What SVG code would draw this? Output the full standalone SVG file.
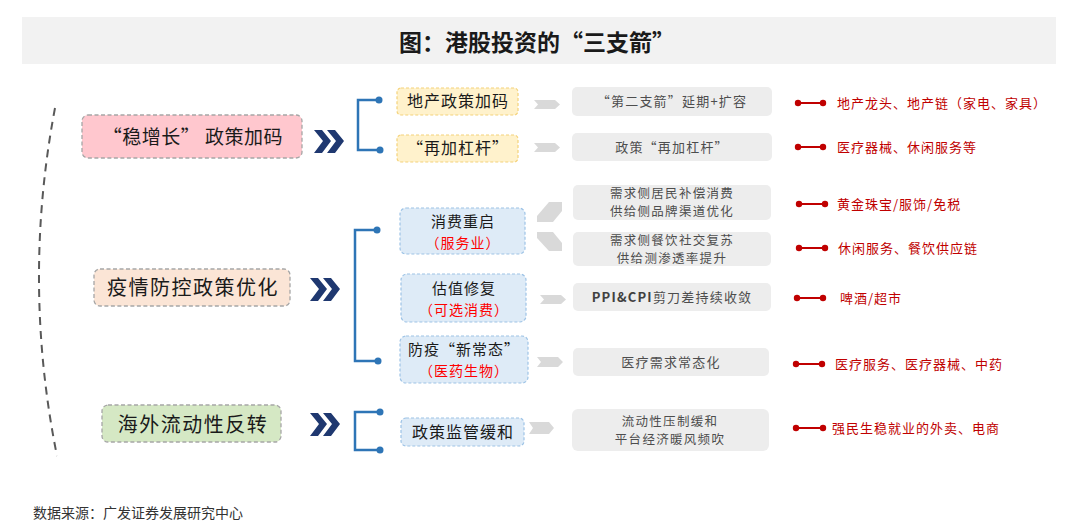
<svg xmlns="http://www.w3.org/2000/svg" width="1080" height="531" viewBox="0 0 1080 531">
<defs>
<style>
text{font-family:"Noto Sans CJK SC","Liberation Sans",sans-serif;}
.title{font-size:23px;font-weight:bold;fill:#1a1a1a;text-anchor:middle;}
.lnode{stroke:#a6a6a6;stroke-width:1.3;stroke-dasharray:4 2.5;}
.ltxt{font-size:20px;fill:#1a1a1a;text-anchor:middle;letter-spacing:1.5px;}
.ynode{fill:#fff2cc;stroke:#f4d27a;stroke-width:1.2;stroke-dasharray:3 2;}
.bnode{fill:#deebf7;stroke:#9dc3e6;stroke-width:1.2;stroke-dasharray:3 2;}
.mtxt{font-size:16px;fill:#1a1a1a;text-anchor:middle;letter-spacing:1px;}
.btxt{font-size:15px;fill:#1a1a1a;text-anchor:middle;letter-spacing:1px;}
.rtxt2{font-size:14px;fill:#ff0000;text-anchor:middle;letter-spacing:1px;}
.gbox{fill:#ededed;}
.gtxt{font-size:13px;fill:#4d4d4d;text-anchor:middle;letter-spacing:1.2px;}
.gtxt2{font-size:12.5px;fill:#4d4d4d;text-anchor:middle;letter-spacing:1.3px;}
.garrow{fill:#d9d9d9;}
.chev{fill:#1f3870;}
.brk{fill:none;stroke:#2e75b6;stroke-width:2.5;}
.bdot{fill:#2e75b6;}
.rline{stroke:#c00000;stroke-width:2;}
.rdot{fill:#c00000;}
.redtxt{font-size:13px;fill:#c00000;letter-spacing:1px;}
</style>
</defs>
<rect width="1080" height="531" fill="#ffffff"/>
<g id="title">
<rect x="22" y="17" width="1034" height="47" fill="#f2f2f2"/>
<text class="title" x="537" y="51">图：港股投资的“三支箭”</text>
</g>
<path d="M55,108 Q22,282 57,456" fill="none" stroke="#595959" stroke-width="2" stroke-dasharray="8 6"/>

<g id="node-wzz">
<rect class="lnode" x="82" y="115" width="220" height="43" rx="6" fill="#ffc7ce"/>
<text class="ltxt" x="193" y="144" style="font-size:19px;letter-spacing:0.5px">“稳增长” 政策加码</text>
</g>
<g id="node-yq">
<rect class="lnode" x="94" y="269" width="196" height="37" rx="6" fill="#fbe5d6"/>
<text class="ltxt" x="193" y="295">疫情防控政策优化</text>
</g>
<g id="node-hw">
<rect class="lnode" x="102" y="405" width="179" height="37" rx="6" fill="#d5e8c4"/>
<text class="ltxt" x="193" y="432">海外流动性反转</text>
</g>

<g id="connectors">
<g class="chev">
<polygon points="314,130 322,130 331,141 322,153 314,153 323,141"/>
<polygon points="327,130 335,130 344,141 335,153 327,153 336,141"/>
<polygon points="310,278 318,278 327,289 318,301 310,301 319,289"/>
<polygon points="323,278 331,278 340,289 331,301 323,301 332,289"/>
<polygon points="310,413 318,413 327,424 318,436 310,436 319,424"/>
<polygon points="323,413 331,413 340,424 331,436 323,436 332,424"/>
</g>
<path class="brk" d="M379,100 H358 V150 H380"/>
<circle class="bdot" cx="379" cy="100" r="3.5"/>
<circle class="bdot" cx="380" cy="150" r="3.5"/>
<path class="brk" d="M377,230 H355 V361 H378"/>
<circle class="bdot" cx="377" cy="230" r="3.5"/>
<circle class="bdot" cx="378" cy="361" r="3.5"/>
<path class="brk" d="M380,412 H355 V450 H380"/>
<circle class="bdot" cx="380" cy="412" r="3.5"/>
<circle class="bdot" cx="380" cy="450" r="3.5"/>

<g class="garrow">
<polygon points="534,100 555,100 560,104.5 555,109 534,109 538,104.5"/>
<polygon points="534,143 555,143 560,147.5 555,152 534,152 538,147.5"/>
<polygon points="549,202 562,202 562,211 553,222 537,222 537,216"/>
<polygon points="537,232 553,232 562,243 562,251 549,251 537,238"/>
<polygon points="540,295 561,295 566,299.5 561,304 540,304 544,299.5"/>
<polygon points="537,357 558,357 563,362 558,367 537,367 541,362"/>
<polygon points="529,422 549,422 554,428 549,434 529,434 533,428"/>
</g>

<g>
<line class="rline" x1="798" y1="103" x2="823" y2="103"/><circle class="rdot" cx="798" cy="103" r="3.2"/><circle class="rdot" cx="823" cy="103" r="3.2"/>
<line class="rline" x1="798" y1="147" x2="823" y2="147"/><circle class="rdot" cx="798" cy="147" r="3.2"/><circle class="rdot" cx="823" cy="147" r="3.2"/>
<line class="rline" x1="799" y1="204" x2="825" y2="204"/><circle class="rdot" cx="799" cy="204" r="3.2"/><circle class="rdot" cx="825" cy="204" r="3.2"/>
<line class="rline" x1="799" y1="248" x2="825" y2="248"/><circle class="rdot" cx="799" cy="248" r="3.2"/><circle class="rdot" cx="825" cy="248" r="3.2"/>
<line class="rline" x1="797" y1="298" x2="823" y2="298"/><circle class="rdot" cx="797" cy="298" r="3.2"/><circle class="rdot" cx="823" cy="298" r="3.2"/>
<line class="rline" x1="796" y1="364" x2="822" y2="364"/><circle class="rdot" cx="796" cy="364" r="3.2"/><circle class="rdot" cx="822" cy="364" r="3.2"/>
<line class="rline" x1="796" y1="428" x2="823" y2="428"/><circle class="rdot" cx="796" cy="428" r="3.2"/><circle class="rdot" cx="823" cy="428" r="3.2"/>
</g>
</g>

<g id="node-dc">
<rect class="ynode" x="397" y="88" width="121" height="27" rx="4"/>
<text class="mtxt" x="458" y="107">地产政策加码</text>
</g>
<g id="node-zjgg">
<rect class="ynode" x="397" y="135" width="121" height="27" rx="4"/>
<text class="mtxt" x="458" y="154">“再加杠杆”</text>
</g>
<g id="node-xf">
<rect class="bnode" x="400" y="208" width="125" height="46" rx="6"/>
<text class="btxt" x="463" y="227">消费重启</text>
<text class="rtxt2" x="463" y="248">（服务业）</text>
</g>
<g id="node-gz">
<rect class="bnode" x="401" y="274" width="125" height="48" rx="6"/>
<text class="btxt" x="464" y="294">估值修复</text>
<text class="rtxt2" x="464" y="315">（可选消费）</text>
</g>
<g id="node-fy">
<rect class="bnode" x="400" y="336" width="128" height="47" rx="6"/>
<text class="btxt" x="464" y="355">防疫“新常态”</text>
<text class="rtxt2" x="464" y="376">（医药生物）</text>
</g>
<g id="node-jg">
<rect class="bnode" x="401" y="418" width="123" height="28" rx="5"/>
<text class="mtxt" x="463" y="438">政策监管缓和</text>
</g>

<g id="box-1">
<rect class="gbox" x="572" y="87" width="200" height="29" rx="5"/>
<text class="gtxt" x="672" y="106">“第二支箭”延期+扩容</text>
</g>
<g id="box-2">
<rect class="gbox" x="572" y="133" width="200" height="28" rx="5"/>
<text class="gtxt" x="672" y="152">政策“再加杠杆”</text>
</g>
<g id="box-3">
<rect class="gbox" x="573" y="185" width="198" height="35" rx="5"/>
<text class="gtxt2" x="672" y="198">需求侧居民补偿消费</text>
<text class="gtxt2" x="672" y="216">供给侧品牌渠道优化</text>
</g>
<g id="box-4">
<rect class="gbox" x="573" y="232" width="198" height="34" rx="5"/>
<text class="gtxt2" x="672" y="245">需求侧餐饮社交复苏</text>
<text class="gtxt2" x="672" y="263">供给测渗透率提升</text>
</g>
<g id="box-5">
<rect class="gbox" x="573" y="283" width="198" height="28" rx="5"/>
<text class="gtxt" x="672" y="302"><tspan font-weight="bold" fill="#404040">PPI&amp;CPI</tspan>剪刀差持续收敛</text>
</g>
<g id="box-6">
<rect class="gbox" x="573" y="348" width="196" height="28" rx="5"/>
<text class="gtxt" x="671" y="367">医疗需求常态化</text>
</g>
<g id="box-7">
<rect class="gbox" x="572" y="409" width="197" height="42" rx="6"/>
<text class="gtxt2" x="670" y="426">流动性压制缓和</text>
<text class="gtxt2" x="670" y="444">平台经济暖风频吹</text>
</g>

<g id="red-labels">
<text class="redtxt" x="837" y="108">地产龙头、地产链（家电、家具）</text>
<text class="redtxt" x="837" y="152">医疗器械、休闲服务等</text>
<text class="redtxt" x="837" y="209">黄金珠宝/服饰/免税</text>
<text class="redtxt" x="838" y="253">休闲服务、餐饮供应链</text>
<text class="redtxt" x="840" y="303">啤酒/超市</text>
<text class="redtxt" x="835" y="369">医疗服务、医疗器械、中药</text>
<text class="redtxt" x="832" y="433">强民生稳就业的外卖、电商</text>
</g>

<text x="33" y="518" font-size="14" fill="#333333">数据来源：广发证券发展研究中心</text>
</svg>
